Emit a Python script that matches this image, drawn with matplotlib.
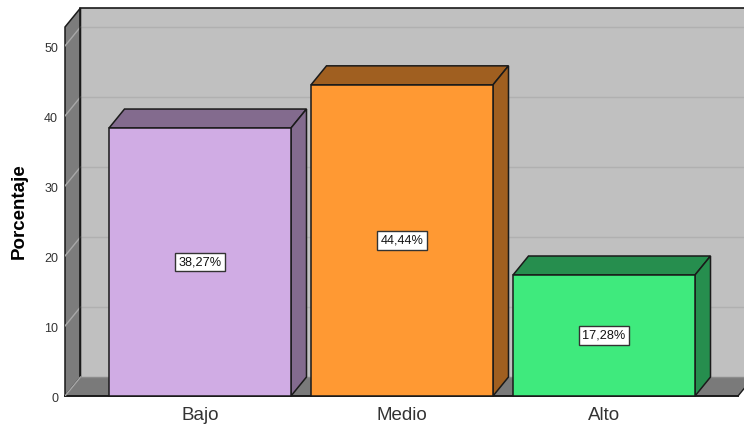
import matplotlib
matplotlib.use('Agg')
import matplotlib.pyplot as plt
from matplotlib.patches import Polygon
from matplotlib.transforms import ScaledTranslation

plt.rcParams['font.family'] = ['Liberation Sans', 'DejaVu Sans']

categories = ['Bajo', 'Medio', 'Alto']
percentages = [38.27, 44.44, 17.28]
labels = ['38,27%', '44,44%', '17,28%']
y_ticks = [0, 10, 20, 30, 40, 50]

front_colors = ['#d0ace4', '#ff9933', '#3fea7d']
side_colors = ['#836b8e', '#a05f20', '#268e4e']

WALL = '#c0c0c0'
SIDE = '#7c7c7c'
FLOOR = '#7a7a7a'
EDGE = '#1a1a1a'

# 3d offset of the box, in data units
DX = 15.5 / 202
DY = 19 / 7
BAR_W = 182 / 202

fig = plt.figure(figsize=(7.44, 4.28), dpi=100)
ax = fig.add_axes([65 / 744, 32 / 428, 679 / 744, 388 / 428])
x0 = -135 / 202
x1 = 544 / 202
x_end = 538 / 202
y_top = 52.7
ax.set_xlim(x0, x1)
ax.set_ylim(0, y_top + DY)


def face(points, color, z, edge=EDGE, lw=1.1):
    ax.add_patch(Polygon(points, closed=True, facecolor=color, edgecolor=edge,
                         linewidth=lw, zorder=z, clip_on=False, joinstyle='miter'))


# back wall, left wall, floor
ax.add_patch(Polygon([(x0 + DX, DY), (x1 + DX, DY), (x1 + DX, y_top + DY), (x0 + DX, y_top + DY)],
                     closed=True, facecolor=WALL, edgecolor='none', zorder=1))
face([(x0, 0), (x0 + DX, DY), (x0 + DX, y_top + DY), (x0, y_top)], SIDE, 1.5)
face([(x0, 0), (x_end, 0), (x_end + DX, DY), (x0 + DX, DY)], FLOOR, 2, edge='none', lw=0)

for t in y_ticks[1:]:
    ax.plot([x0 + DX, x1], [t + DY, t + DY], color='#b0b0b0', lw=1, zorder=1.2)
    ax.plot([x0, x0 + DX], [t, t + DY], color='#a8a8a8', lw=1, zorder=1.6)

ax.plot([x0 + DX, x1], [y_top + DY, y_top + DY], color=EDGE, lw=1.2, zorder=3, clip_on=False)
ax.plot([x0 + DX, x0 + DX], [DY, y_top + DY], color=EDGE, lw=1.2, zorder=3)
ax.plot([x0 + DX, x1], [DY, DY], color='#8c8c8c', lw=1, zorder=2.5)
ax.plot([x0, x_end], [0, 0], color=EDGE, lw=1.4, zorder=3, clip_on=False)
ax.plot([x0, x0 + DX], [0, DY], color='#a8a8a8', lw=1, zorder=3)
ax.plot([x_end, x_end + DX], [0, DY], color=EDGE, lw=1, zorder=3)

# bars
for i, (v, lab) in enumerate(zip(percentages, labels)):
    l = i - BAR_W / 2
    r = i + BAR_W / 2
    face([(l, v), (r, v), (r + DX, v + DY), (l + DX, v + DY)], side_colors[i], 4)
    face([(r, 0), (r + DX, DY), (r + DX, v + DY), (r, v)], side_colors[i], 4)
    face([(l, 0), (r, 0), (r, v), (l, v)], front_colors[i], 5)
    ax.text(i, v / 2, lab, ha='center', va='center', fontsize=9.2, color='#111111', zorder=6,
            bbox=dict(boxstyle='square,pad=0.25', facecolor='white', edgecolor='#333333', linewidth=1))

ax.set_xticks(range(len(categories)))
ax.set_xticklabels(categories, fontsize=13.5, color='#333333')
ax.set_yticks(y_ticks)
ax.set_yticklabels(y_ticks, fontsize=9, color='#333333')
ax.tick_params(axis='both', length=0)
ax.tick_params(axis='y', pad=5)
ax.tick_params(axis='x', pad=8)
# tick labels sit a little under their gridlines in the original
shift = ScaledTranslation(0, -1.5 / 100, fig.dpi_scale_trans)
for lab in ax.get_yticklabels():
    lab.set_transform(lab.get_transform() + shift)
ax.set_ylabel('Porcentaje', fontsize=13.5, fontweight='bold', color='black')
ax.yaxis.set_label_coords(-37 / 679, 185 / 388)
for s in ax.spines.values():
    s.set_visible(False)

fig.savefig('out.png', dpi=100)
